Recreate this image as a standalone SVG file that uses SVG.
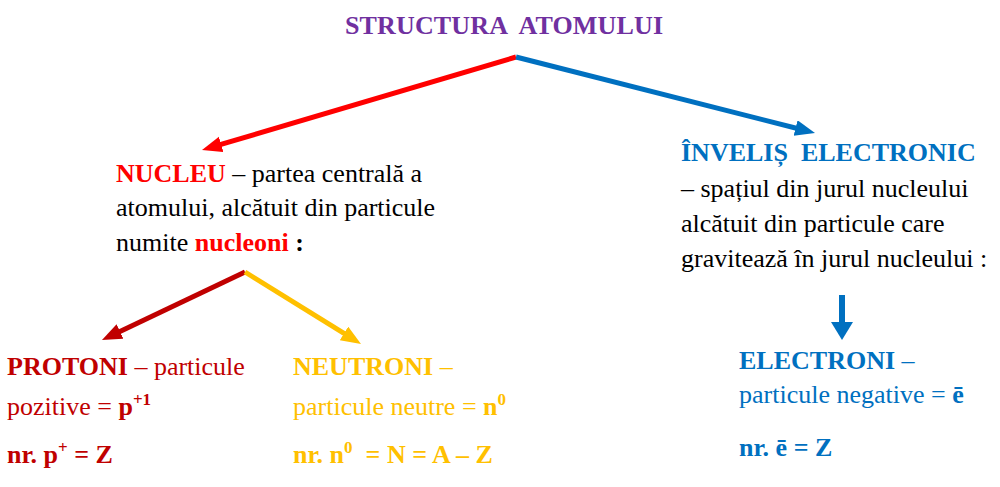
<svg xmlns="http://www.w3.org/2000/svg" width="1000" height="487" viewBox="0 0 1000 487">
<style>
text{font-family:"Liberation Serif","Times New Roman",serif;font-size:26px;white-space:pre}
.b{font-weight:bold}
.title{fill:#7030A0;font-weight:bold}
.red{fill:#FF0000}
.dred{fill:#C00000}
.yel{fill:#FFC000}
.blue{fill:#0070C0}
.blk{fill:#000000}
.sup{font-size:17px}
.conn line{stroke-width:5;fill:none}
</style>
<defs>
<marker id="hRed" markerUnits="userSpaceOnUse" markerWidth="22" markerHeight="18" refX="10" refY="8" orient="auto"><path d="M0,0 L20,8 L0,16 z" fill="#FF0000"/></marker>
<marker id="hBlue" markerUnits="userSpaceOnUse" markerWidth="22" markerHeight="18" refX="10" refY="8" orient="auto"><path d="M0,0 L20,8 L0,16 z" fill="#0070C0"/></marker>
<marker id="hDred" markerUnits="userSpaceOnUse" markerWidth="22" markerHeight="18" refX="10" refY="8" orient="auto"><path d="M0,0 L20,8 L0,16 z" fill="#C00000"/></marker>
<marker id="hYel" markerUnits="userSpaceOnUse" markerWidth="22" markerHeight="18" refX="10" refY="8" orient="auto"><path d="M0,0 L20,8 L0,16 z" fill="#FFC000"/></marker>
<marker id="hBlueBig" markerUnits="userSpaceOnUse" markerWidth="22" markerHeight="24" refX="8" refY="11" orient="auto"><path d="M0,0 L18,11 L0,22 z" fill="#0070C0"/></marker>
</defs>

<g id="title">
<text class="title" x="504" y="34" text-anchor="middle" textLength="318">STRUCTURA  ATOMULUI</text>
</g>

<g id="connectors" class="conn">
<line x1="516" y1="57" x2="211.6" y2="147.2" stroke="#FF0000" marker-end="url(#hRed)"/>
<line x1="516" y1="57" x2="805.3" y2="130.5" stroke="#0070C0" marker-end="url(#hBlue)"/>
<line x1="245" y1="272" x2="111" y2="335.7" stroke="#C00000" marker-end="url(#hDred)"/>
<line x1="245" y1="272" x2="352.5" y2="338.7" stroke="#FFC000" marker-end="url(#hYel)"/>
<line x1="842" y1="295" x2="842" y2="330" stroke="#0070C0" style="stroke-width:6" marker-end="url(#hBlueBig)"/>
</g>

<g id="nucleu">
<text x="116" y="182"><tspan class="b red">NUCLEU</tspan><tspan class="blk"> – partea centrală a</tspan></text>
<text x="116" y="216" class="blk">atomului, alcătuit din particule</text>
<text x="116" y="251" class="blk">numite <tspan class="b red">nucleoni</tspan><tspan class="b"> :</tspan></text>
</g>

<g id="invelis">
<text x="681" y="161" class="b blue">ÎNVELIȘ  ELECTRONIC</text>
<text x="681" y="197" class="blk">– spațiul din jurul nucleului</text>
<text x="681" y="232" class="blk">alcătuit din particule care</text>
<text x="681" y="267" class="blk">gravitează în jurul nucleului :</text>
</g>

<g id="protoni">
<text x="7" y="375" class="dred"><tspan class="b">PROTONI</tspan> – particule</text>
<text x="7" y="415" class="dred">pozitive = <tspan class="b">p</tspan><tspan class="b sup" dy="-10">+1</tspan></text>
<text x="7" y="463" class="dred b">nr. p<tspan class="sup" dy="-10">+</tspan><tspan dy="10"> = Z</tspan></text>
</g>

<g id="neutroni">
<text x="293" y="375" class="yel"><tspan class="b">NEUTRONI</tspan> –</text>
<text x="293" y="415" class="yel">particule neutre = <tspan class="b">n</tspan><tspan class="b sup" dy="-10">0</tspan></text>
<text x="293" y="463" class="yel b">nr. n<tspan class="sup" dy="-10">0</tspan><tspan dy="10">  = N = A – Z</tspan></text>
</g>

<g id="electroni">
<text x="739" y="369" class="blue"><tspan class="b">ELECTRONI</tspan> –</text>
<text x="739" y="403" class="blue">particule negative = <tspan class="b">ē</tspan></text>
<text x="739" y="456" class="blue b">nr. ē = Z</text>
</g>
</svg>
